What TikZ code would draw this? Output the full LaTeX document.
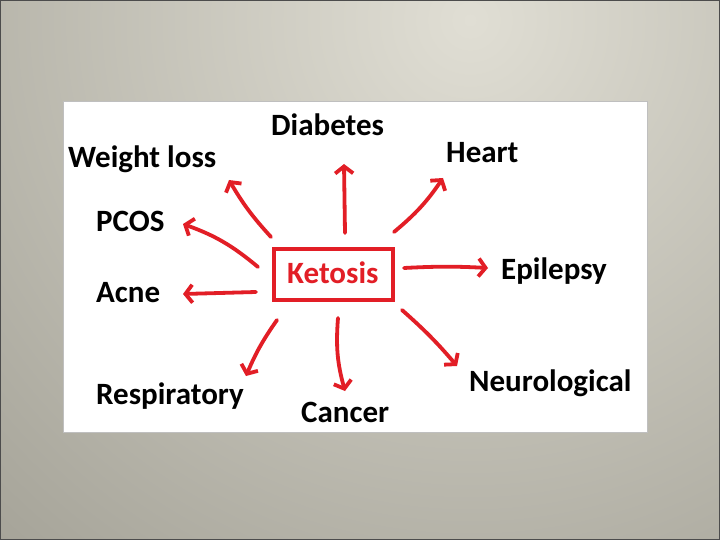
\documentclass[tikz,border=0pt]{standalone}
\usepackage{fontspec}
\setsansfont{Carlito}
\usetikzlibrary{arrows.meta}
\definecolor{keto-red}{RGB}{226, 30, 38}
\definecolor{bg-light}{RGB}{224, 222, 212}
\definecolor{bg-dark}{RGB}{108, 106, 94}

\begin{document}
\begin{tikzpicture}[x=1pt, y=-1pt,
    topic/.style={font=\sffamily\bfseries\fontsize{31}{31}\selectfont, text=black, inner sep=0pt, anchor=base west},
    link/.style={draw=keto-red, line width=3.8pt, line cap=round, line join=round,
      -{Straight Barb[length=7pt, width=18pt, line width=3.8pt]}}]
\useasboundingbox (0,0) rectangle (720,540);
% background
\begin{scope}
\clip (0,0) rectangle (720,540);
\shade[inner color=bg-light, outer color=bg-dark] (470,20) circle (1400);
\draw[black!70, line width=2pt] (0,0) rectangle (720,540);
\end{scope}
\filldraw[fill=white, draw=black!25, line width=1pt] (63,102) rectangle (647,432);

% the centre box
\node[draw=keto-red, line width=4pt, minimum width=119pt, minimum height=51pt, inner sep=0pt] (box) at (333.5,274.5) {};
\node[topic, text=keto-red] (ket) at (287,283) {Ketosis};

% topics
\node[topic] (wl) at (68,168) {Weight loss};
\node[topic] (dia) at (271,136) {Diabetes};
\node[topic] (hrt) at (446,163) {Heart};
\node[topic] (pcos) at (96,232) {PCOS};
\node[topic] (acne) at (96,302) {Acne};
\node[topic] (epi) at (501,279) {Epilepsy};
\node[topic] (resp) at (96,404) {Respiratory};
\node[topic] (canc) at (301,422) {Cancer};
\node[topic] (neuro) at (469,391) {Neurological};

% arrow ends
\coordinate (wl-s) at (271,237);   \coordinate (wl-e) at (229,180);
\coordinate (dia-s) at (345,233);  \coordinate (dia-e) at (344,164);
\coordinate (hrt-s) at (394,232);  \coordinate (hrt-e) at (443,178);
\coordinate (pcos-s) at (258,267); \coordinate (pcos-e) at (183,224);
\coordinate (acne-s) at (256,292); \coordinate (acne-e) at (183,294);
\coordinate (epi-s) at (404,268);  \coordinate (epi-e) at (488,268);
\coordinate (resp-s) at (277,320); \coordinate (resp-e) at (246,376);
\coordinate (canc-s) at (338,318); \coordinate (canc-e) at (345,391);
\coordinate (neuro-s) at (402,310); \coordinate (neuro-e) at (457,366);

\draw[link] (wl-s) to[bend left=6] (wl-e);
\draw[link] (dia-s) -- (dia-e);
\draw[link] (hrt-s) to[bend right=8] (hrt-e);
\draw[link] (pcos-s) to[bend right=10] (pcos-e);
\draw[link] (acne-s) -- (acne-e);
\draw[link] (epi-s) to[bend left=3] (epi-e);
\draw[link] (resp-s) to[bend right=6] (resp-e);
\draw[link] (canc-s) to[bend right=10] (canc-e);
\draw[link] (neuro-s) to[bend left=4] (neuro-e);
\end{tikzpicture}
\end{document}
